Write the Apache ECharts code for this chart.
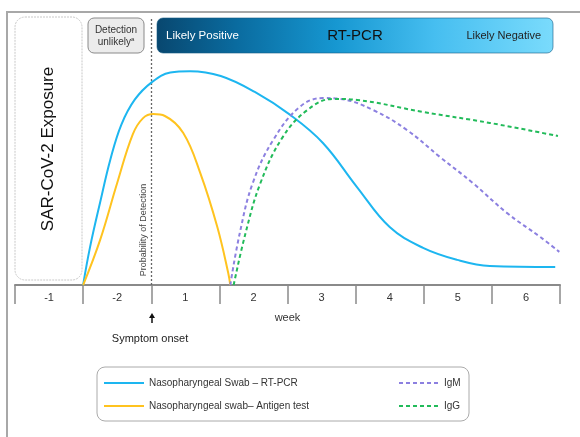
<!DOCTYPE html>
<html>
<head>
<meta charset="utf-8">
<script src="https://cdn.jsdelivr.net/npm/echarts@6/dist/echarts.min.js"></script>
<style>html,body{margin:0;padding:0;background:#fff}#c{width:580px;height:437px}</style>
</head>
<body>
<div id="c"></div>
<script>
// ---- data ----
var weekLabels = ['-1', '-2', '1', '2', '3', '4', '5', '6'];
var seriesNames = ['Nasopharyngeal Swab \u2013 RT-PCR', 'Nasopharyngeal swab\u2013 Antigen test', 'IgM', 'IgG'];
var rtPcr = [[1.0,0],[1.10,14],[1.25,31],[1.40,47],[1.56,60],[1.76,69.5],[2.01,76.0],[2.28,79.6],[2.57,80.1],[3.02,78.3],[3.52,72.3],[4.04,63.7],[4.52,53.2],[5.02,36.7],[5.50,21.7],[5.99,13.9],[6.49,9.4],[6.97,7.1],[7.93,6.7]];
var antigen = [[1.0,0],[1.25,16.9],[1.50,38.2],[1.73,56.5],[1.88,62.5],[2.03,64.0],[2.20,63.3],[2.47,56.9],[2.72,41.9],[2.97,21.7],[3.13,4.5],[3.16,0]];
var igm = [[3.16,0],[3.30,19.5],[3.49,38.2],[3.79,54.3],[4.18,66.7],[4.52,70.0],[4.77,69.7],[5.26,65.5],[5.75,58.1],[6.24,47.9],[6.72,38.2],[7.22,27.0],[7.71,18.0],[7.99,12.4]];
var igg = [[3.21,0],[3.38,19],[3.60,38],[3.92,55],[4.29,65.5],[4.67,69.7],[5.02,69.3],[5.99,64.8],[6.97,60.7],[7.97,55.8]];
var onsetWeek = [2];

var FONT = 'Arial, "Liberation Sans", sans-serif';
var chart = echarts.init(document.getElementById('c'));
var colors = ['#1db6f0', '#ffc31f', '#8c80e0', '#22bb5a'];

function lineSeries(name, data, color, dashed, extra) {
  var s = {
    name: name, type: 'line', xAxisIndex: 1, yAxisIndex: 0,
    data: data, smooth: 0.4, symbol: 'none', silent: true,
    lineStyle: { color: color, width: 2, type: dashed ? [4, 3] : 'solid' },
    itemStyle: { color: color }, z: 5
  };
  if (extra) for (var k in extra) s[k] = extra[k];
  return s;
}

var legendBase = {
  orient: 'vertical', itemWidth: 40, itemHeight: 12, itemGap: 13,
  itemStyle: { opacity: 0, borderWidth: 0 },
  textStyle: { color: '#333', fontSize: 10, fontFamily: FONT }
};

var option = {
  animation: false,
  textStyle: { fontFamily: FONT },
  grid: { left: 15, right: 20, top: 18, bottom: 152 },
  xAxis: [
    {
      type: 'category', data: weekLabels, boundaryGap: true, position: 'bottom',
      axisLine: { lineStyle: { color: '#8a8a8a', width: 2 } },
      axisTick: { show: true, length: 19, interval: 0, lineStyle: { color: '#8a8a8a', width: 1.5 } },
      axisLabel: { interval: 0, margin: 7, color: '#333', fontSize: 11, fontFamily: FONT },
      splitLine: { show: false },
      name: 'week', nameLocation: 'middle', nameGap: 27,
      nameTextStyle: { color: '#333', fontSize: 11, fontFamily: FONT }
    },
    { type: 'value', min: 0, max: 8, show: false }
  ],
  yAxis: [{ type: 'value', min: 0, max: 100, show: false }],
  legend: [
    Object.assign({}, legendBase, { data: seriesNames.slice(0, 2), left: 98, top: 373 }),
    Object.assign({}, legendBase, { data: seriesNames.slice(2, 4), left: 393, top: 373 })
  ],
  series: [
    lineSeries(seriesNames[0], rtPcr, colors[0], false, {
      markLine: {
        silent: true, symbol: ['none', 'triangle'], symbolSize: [0, 6],
        label: { show: false },
        lineStyle: { color: '#666', type: [2, 2], width: 1.3 },
        data: [[{ coord: [onsetWeek[0], 0] }, { coord: [onsetWeek[0], 100] }]]
      }
    }),
    lineSeries(seriesNames[1], antigen, colors[1], false),
    lineSeries(seriesNames[2], igm, colors[2], true),
    lineSeries(seriesNames[3], igg, colors[3], true)
  ],
  graphic: [
    // outer frame
    { type: 'polyline', silent: true, shape: { points: [[7, 437], [7, 12], [580, 12]] }, style: { stroke: '#a8a8a8', lineWidth: 2, fill: null } },
    // exposure box
    { type: 'rect', silent: true, shape: { x: 15, y: 17, width: 67, height: 263, r: 10 }, style: { fill: '#fff', stroke: '#c8c8c8', lineWidth: 1, lineDash: [2, 1] } },
    { type: 'text', silent: true, x: 48, y: 149, rotation: Math.PI / 2, style: { text: 'SAR-CoV-2 Exposure', font: '17px ' + FONT, fill: '#111', align: 'center', verticalAlign: 'middle' } },
    // detection unlikely box
    { type: 'rect', silent: true, shape: { x: 88, y: 18, width: 56, height: 35, r: 6 }, style: { fill: '#ececec', stroke: '#8a8a8a', lineWidth: 1 } },
    { type: 'text', silent: true, x: 116, y: 36, style: {
        text: '{t|Detection}\n{t|unlikely}{s|a}', align: 'center', verticalAlign: 'middle',
        rich: { t: { font: '10px ' + FONT, fill: '#333', lineHeight: 12 }, s: { font: '6px ' + FONT, fill: '#333', verticalAlign: 'top', lineHeight: 12 } }
      } },
    // banner
    { type: 'rect', silent: true, shape: { x: 157, y: 18, width: 396, height: 35, r: 6 }, style: {
        fill: new echarts.graphic.LinearGradient(0, 0, 1, 0, [
          { offset: 0, color: '#08476f' }, { offset: 0.2, color: '#0a6b9f' },
          { offset: 0.45, color: '#1697d1' }, { offset: 0.7, color: '#46bef0' }, { offset: 1, color: '#7adbfc' }
        ]), stroke: 'rgba(20,90,130,0.6)', lineWidth: 1 } },
    { type: 'text', silent: true, x: 166, y: 36, style: { text: 'Likely Positive', font: '11.5px ' + FONT, fill: '#fff', align: 'left', verticalAlign: 'middle' } },
    { type: 'text', silent: true, x: 355, y: 36, style: { text: 'RT-PCR', font: '15px ' + FONT, fill: '#111', align: 'center', verticalAlign: 'middle' } },
    { type: 'text', silent: true, x: 541, y: 36, style: { text: 'Likely Negative', font: '11px ' + FONT, fill: '#222', align: 'right', verticalAlign: 'middle' } },
    // probability label
    { type: 'text', silent: true, x: 144, y: 230, rotation: Math.PI / 2, style: { text: 'Probability of Detection', font: '9px ' + FONT, fill: '#444', align: 'center', verticalAlign: 'middle' } },
    // symptom onset arrow
    { type: 'line', silent: true, shape: { x1: 152, y1: 317, x2: 152, y2: 323 }, style: { stroke: '#111', lineWidth: 1.5 } },
    { type: 'polygon', silent: true, shape: { points: [[152, 313], [149, 318], [155, 318]] }, style: { fill: '#111' } },
    { type: 'text', silent: true, x: 150, y: 339, style: { text: 'Symptom onset', font: '11px ' + FONT, fill: '#222', align: 'center', verticalAlign: 'middle' } },
    // legend frame
    { type: 'rect', silent: true, shape: { x: 97, y: 367, width: 372, height: 54, r: 8 }, style: { fill: null, stroke: '#aaa', lineWidth: 1 } }
  ]
};
chart.setOption(option);
</script>
</body>
</html>
